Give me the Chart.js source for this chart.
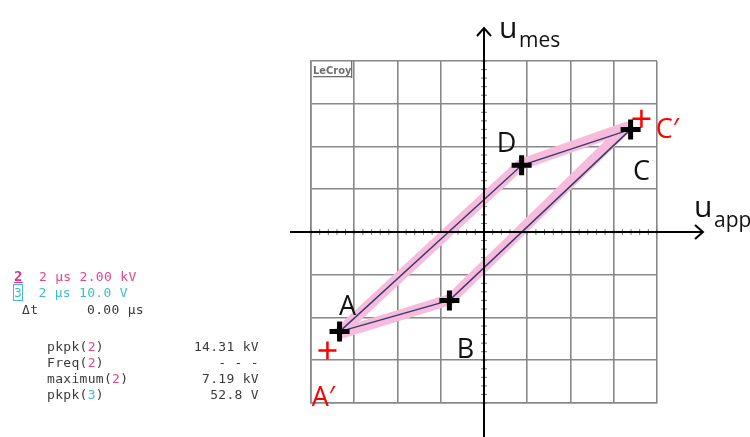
<!DOCTYPE html>
<html>
<head>
<meta charset="utf-8">
<script src="https://cdn.jsdelivr.net/npm/chart.js@4.4.1/dist/chart.umd.min.js"></script>
<style>
  html, body { margin: 0; padding: 0; background: #fff; }
  #wrap { position: relative; width: 750px; height: 437px; overflow: hidden; }
  #chart { position: absolute; left: 0; top: 0; }
  .scope { position: absolute; font-family: "DejaVu Sans Mono", monospace; font-size: 13px;
           color: #3a3a3a; white-space: pre; line-height: 16px; letter-spacing: 0.3px; }
  .pk { color: #e2468f; }
  .cy { color: #3dbccb; }
  .ch2 { color: #e0307f; font-weight: bold; font-size: 14px; text-decoration: underline; }
  .ch3 { color: #3dbccb; outline: 1.5px solid #3dbccb; }
  .r { position: absolute; text-align: right; width: 130px; }
</style>
</head>
<body>
<div id="wrap">
  <canvas id="chart" width="750" height="437"></canvas>

  <div class="scope pk" style="left:14px; top:268px;"><span class="ch2">2</span>  2 μs 2.00 kV</div>
  <div class="scope cy" style="left:14px; top:285px;"><span class="ch3">3</span>  2 μs 10.0 V</div>
  <div class="scope" style="left:22px; top:302px;">Δt      0.00 μs</div>

  <div class="scope" style="left:47px; top:339px;">pkpk(<span class="pk">2</span>)</div>
  <div class="scope" style="left:47px; top:355px;">Freq(<span class="pk">2</span>)</div>
  <div class="scope" style="left:47px; top:371px;">maximum(<span class="pk">2</span>)</div>
  <div class="scope" style="left:47px; top:387px;">pkpk(<span class="cy">3</span>)</div>

  <div class="scope r" style="left:129px; top:339px;">14.31 kV</div>
  <div class="scope r" style="left:129px; top:355px;">- - -</div>
  <div class="scope r" style="left:129px; top:371px;">7.19 kV</div>
  <div class="scope r" style="left:129px; top:387px;">52.8 V</div>
</div>

<script>
// grid is 8 x 8 divisions, values in divisions
const loopX = [-3.34, 0.87, 3.39, -0.80, -3.34];   // A -> D -> C -> B -> A
const loopY = [-2.33, 1.56, 2.40, -1.60, -2.33];

const traceX = [-3.40, 0.85, 3.30, -0.78, -3.40];  // pink measured trace
const traceY = [-2.40, 1.58, 2.45, -1.58, -2.40];

const markLabels = ['A', 'D', 'C', 'B'];
const markX = [-3.34, 0.87, 3.39, -0.80];
const markY = [-2.33, 1.56, 2.40, -1.60];

const idealLabels = ['A\u2032', 'C\u2032'];
const idealX = [-3.62, 3.64];
const idealY = [-2.77, 2.65];

const toPts = (xs, ys) => xs.map((x, i) => ({ x: x, y: ys[i] }));

// label offsets in px from the marker
const markOffsets = { 'A': [8, -24], 'D': [-15, -21], 'C': [11, 43], 'B': [16, 50] };
const idealOffsets = { 'A\u2032': [-4, 48], 'C\u2032': [26, 12] };

const overlay = {
  id: 'overlay',
  beforeDatasetsDraw(chart) {
    const ctx = chart.ctx;
    const xs = chart.scales.x, ys = chart.scales.y;
    const x0 = xs.getPixelForValue(0), y0 = ys.getPixelForValue(0);
    ctx.save();
    // minor ticks on center graticule
    ctx.strokeStyle = '#777';
    ctx.lineWidth = 1;
    for (let v = -4; v <= 4.001; v += 0.2) {
      const px = xs.getPixelForValue(v), py = ys.getPixelForValue(v);
      ctx.beginPath();
      ctx.moveTo(px, y0 - 3); ctx.lineTo(px, y0 + 3);
      ctx.moveTo(x0 - 3, py); ctx.lineTo(x0 + 3, py);
      ctx.stroke();
    }
    // LeCroy logo
    const a = chart.chartArea;
    ctx.fillStyle = '#6f6f6f';
    ctx.font = 'bold 11px "DejaVu Sans Condensed", "DejaVu Sans"';
    ctx.textBaseline = 'alphabetic';
    ctx.fillText('LeCroy', a.left + 2, a.top + 13);
    ctx.fillRect(a.left + 2, a.top + 15, 38, 1.3);
    ctx.fillRect(a.left + 40, a.top, 1.3, 17);
    ctx.restore();
  },
  afterDatasetsDraw(chart) {
    const ctx = chart.ctx;
    const xs = chart.scales.x, ys = chart.scales.y;
    const x0 = xs.getPixelForValue(0), y0 = ys.getPixelForValue(0);
    ctx.save();
    // black axes with arrows
    ctx.strokeStyle = '#000';
    ctx.lineWidth = 2;
    ctx.beginPath();
    ctx.moveTo(290, y0); ctx.lineTo(703, y0);
    ctx.moveTo(695, y0 - 7); ctx.lineTo(703, y0); ctx.lineTo(695, y0 + 7);
    ctx.moveTo(x0, 437); ctx.lineTo(x0, 28);
    ctx.moveTo(x0 - 7, 36); ctx.lineTo(x0, 28); ctx.lineTo(x0 + 7, 36);
    ctx.stroke();

    // axis names
    ctx.fillStyle = '#111';
    ctx.textBaseline = 'alphabetic';
    ctx.textAlign = 'left';
    ctx.font = '30px "Open Sans"';
    ctx.fillText('u', x0 + 15, 38);
    ctx.fillText('u', 694, 217);
    ctx.font = '21px "Open Sans"';
    ctx.fillText('mes', x0 + 35, 47);
    ctx.fillText('app', 714, 227);

    // marker letters
    ctx.textAlign = 'center';
    ctx.textBaseline = 'middle';
    ctx.font = '27px "Open Sans"';
    markLabels.forEach((l, i) => {
      const o = markOffsets[l];
      ctx.fillText(l, xs.getPixelForValue(markX[i]) + o[0], ys.getPixelForValue(markY[i]) + o[1]);
    });
    ctx.fillStyle = '#f00';
    idealLabels.forEach((l, i) => {
      const o = idealOffsets[l];
      ctx.fillText(l, xs.getPixelForValue(idealX[i]) + o[0], ys.getPixelForValue(idealY[i]) + o[1]);
    });
    ctx.restore();
  }
};

const ctx = document.getElementById('chart').getContext('2d');
const chart = new Chart(ctx, {
  type: 'scatter',
  data: {
    datasets: [{
      data: toPts(markX, markY),
      pointStyle: 'cross',
      pointRadius: 10,
      borderWidth: 5,
      borderColor: '#000',
      order: 0
    }, {
      data: toPts(idealX, idealY),
      pointStyle: 'cross',
      pointRadius: 9,
      borderWidth: 2.5,
      borderColor: '#f00',
      order: 1
    }, {
      data: toPts(loopX, loopY),
      showLine: true,
      borderColor: '#3a3a72',
      borderWidth: 1.5,
      pointRadius: 0,
      order: 2
    }, {
      data: toPts(traceX, traceY),
      showLine: true,
      borderColor: '#f7bcdb',
      borderWidth: 11,
      borderJoinStyle: 'round',
      pointRadius: 0,
      order: 3
    }]
  },
  options: {
    responsive: false,
    animation: false,
    events: [],
    layout: { padding: { left: 311, right: 93, top: 61, bottom: 34 } },
    plugins: { legend: { display: false }, tooltip: { enabled: false } },
    scales: {
      x: {
        type: 'linear', min: -4, max: 4,
        ticks: { display: false, stepSize: 1 },
        grid: { color: '#888', lineWidth: 1.6, drawTicks: false },
        border: { color: '#888', width: 1.6 }
      },
      y: {
        type: 'linear', min: -4, max: 4,
        ticks: { display: false, stepSize: 1 },
        grid: { color: '#888', lineWidth: 1.6, drawTicks: false },
        border: { color: '#888', width: 1.6 }
      }
    }
  },
  plugins: [overlay]
});
</script>
</body>
</html>
